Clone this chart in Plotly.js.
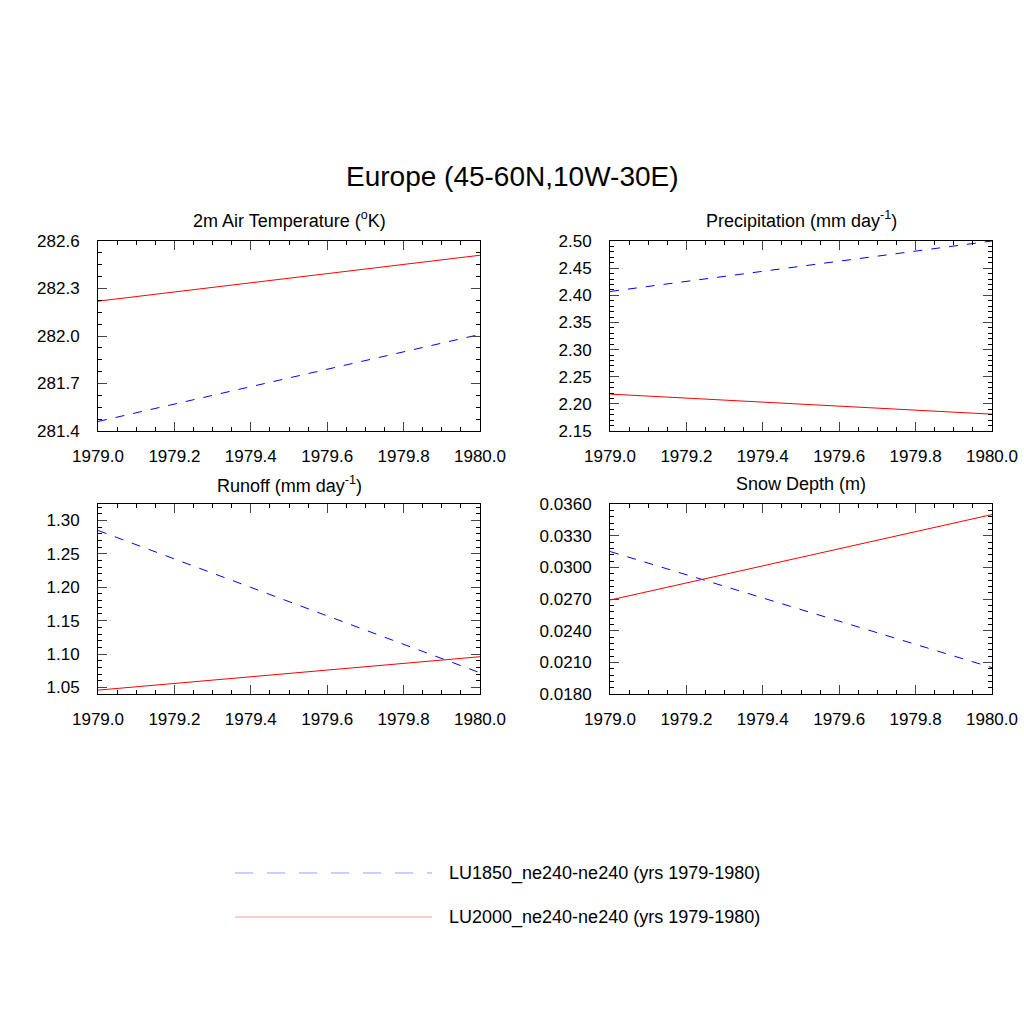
<!DOCTYPE html>
<html>
<head>
<meta charset="utf-8">
<script src="https://cdn.plot.ly/plotly-3.0.1.min.js"></script>
<style>body{margin:0;background:#fff}#plot{width:1024px;height:1024px}</style>
</head>
<body>
<div id="plot"></div>
<script>
// years on the x axis
const years = [1979.0, 1980.0];

// 2m air temperature (K)
const tempLU1850 = [281.46, 282.01];
const tempLU2000 = [282.22, 282.51];
// precipitation (mm/day)
const precLU1850 = [2.407, 2.500];
const precLU2000 = [2.218, 2.181];
// runoff (mm/day)
const runoffLU1850 = [1.285, 1.072];
const runoffLU2000 = [1.046, 1.096];
// snow depth (m)
const snowLU1850 = [0.0315, 0.0205];
const snowLU2000 = [0.0269, 0.0350];

const xTicks = [1979.0, 1979.2, 1979.4, 1979.6, 1979.8, 1980.0];
const xTickText = ["1979.0", "1979.2", "1979.4", "1979.6", "1979.8", "1980.0"];

const W = 1024;
const px = v => v / W;
const py = v => 1 - v / W;

const font = { family: "Liberation Sans, Arial, sans-serif", color: "#000" };

function blue(x, y, ax) {
  return { x, y, xaxis: "x" + ax, yaxis: "y" + ax, mode: "lines",
    line: { color: "#0000ff", width: 1, dash: "dash" }, showlegend: false };
}
function red(x, y, ax) {
  return { x, y, xaxis: "x" + ax, yaxis: "y" + ax, mode: "lines",
    line: { color: "#ff0000", width: 1 }, showlegend: false };
}

const data = [
  blue(years, tempLU1850, ""), red(years, tempLU2000, ""),
  blue(years, precLU1850, 2), red(years, precLU2000, 2),
  blue(years, runoffLU1850, 3), red(years, runoffLU2000, 3),
  blue(years, snowLU1850, 4), red(years, snowLU2000, 4),
];

function xax(x0, x1, anchor) {
  return {
    domain: [px(x0), px(x1)], anchor, range: [1979, 1980],
    tickvals: xTicks, ticktext: xTickText, ticks: "inside", ticklen: 9,
    mirror: "allticks", showline: true, linecolor: "#000", linewidth: 1,
    showgrid: false, zeroline: false, tickfont: { ...font, size: 17 },
    ticklabelstandoff: 10,
    minor: { dtick: 0.05, ticks: "inside", ticklen: 4, tickcolor: "#000" }
  };
}
function yax(y0, y1, range, tickvals, ticktext, minorStep, anchor) {
  return {
    domain: [py(y1), py(y0)], anchor, range,
    tickvals, ticktext, ticks: "inside", ticklen: 9,
    mirror: "allticks", showline: true, linecolor: "#000", linewidth: 1,
    showgrid: false, zeroline: false, tickfont: { ...font, size: 17 },
    ticklabelstandoff: 14,
    minor: { dtick: minorStep, ticks: "inside", ticklen: 4, tickcolor: "#000" }
  };
}

function label(text, x, y, size, xanchor) {
  return { text, x: px(x), y: py(y), xref: "paper", yref: "paper",
    xanchor: xanchor || "center", yanchor: "middle",
    showarrow: false, font: { ...font, size } };
}

const layout = {
  width: 1024, height: 1024,
  margin: { l: 0, r: 0, t: 0, b: 0 },
  paper_bgcolor: "#fff", plot_bgcolor: "#fff",
  showlegend: false, font,
  xaxis: xax(98, 480, "y"),
  yaxis: yax(241, 431, [281.4, 282.6], [281.4, 281.7, 282.0, 282.3, 282.6],
    ["281.4", "281.7", "282.0", "282.3", "282.6"], 0.075, "x"),
  xaxis2: xax(610, 992, "y2"),
  yaxis2: yax(241, 431, [2.15, 2.50], [2.15, 2.20, 2.25, 2.30, 2.35, 2.40, 2.45, 2.50],
    ["2.15", "2.20", "2.25", "2.30", "2.35", "2.40", "2.45", "2.50"], 0.01, "x2"),
  xaxis3: xax(98, 480, "y3"),
  yaxis3: yax(504, 694, [1.0402, 1.3246], [1.05, 1.10, 1.15, 1.20, 1.25, 1.30],
    ["1.05", "1.10", "1.15", "1.20", "1.25", "1.30"], 0.01, "x3"),
  xaxis4: xax(610, 992, "y4"),
  yaxis4: yax(504, 694, [0.018, 0.036], [0.018, 0.021, 0.024, 0.027, 0.030, 0.033, 0.036],
    ["0.0180", "0.0210", "0.0240", "0.0270", "0.0300", "0.0330", "0.0360"], 0.0006, "x4"),
  annotations: [
    label("Europe (45-60N,10W-30E)", 512, 176, 28),
    label("2m Air Temperature (<sup>o</sup>K)", 289, 219, 18),
    label("Precipitation (mm day<sup>-1</sup>)", 801, 219, 18),
    label("Runoff (mm day<sup>-1</sup>)", 289, 484, 18),
    label("Snow Depth (m)", 801, 484, 18),
    label("LU1850_ne240-ne240 (yrs 1979-1980)", 447, 873, 18, "left"),
    label("LU2000_ne240-ne240 (yrs 1979-1980)", 447, 917, 18, "left"),
  ],
  shapes: [
    { type: "line", xref: "paper", yref: "paper", x0: px(235), x1: px(432), y0: py(873), y1: py(873),
      line: { color: "#9999ff", width: 1, dash: "18px,14px" } },
    { type: "line", xref: "paper", yref: "paper", x0: px(235), x1: px(432), y0: py(917), y1: py(917),
      line: { color: "#ff9999", width: 1 } },
  ],
};

Plotly.newPlot("plot", data, layout, { staticPlot: true });
</script>
</body>
</html>
